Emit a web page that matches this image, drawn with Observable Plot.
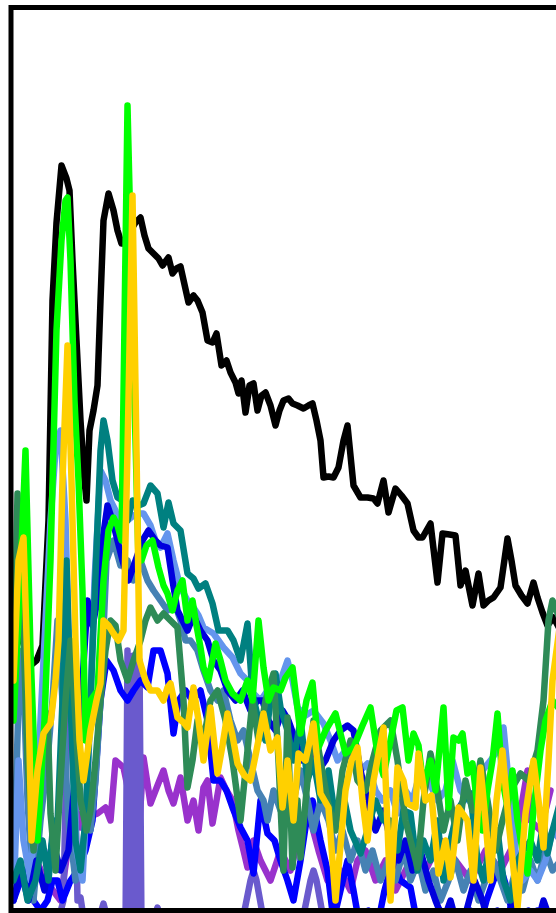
<!DOCTYPE html>
<html><head><meta charset="utf-8">
<script src="https://cdn.jsdelivr.net/npm/d3@7"></script>
<script src="https://cdn.jsdelivr.net/npm/@observablehq/plot@0.6"></script>
<style>html,body{margin:0;padding:0;background:#fff;overflow:hidden}
#chart svg{max-width:none !important;width:575px !important;height:913px !important}</style>
</head><body><div id="chart"></div>
<script>
// Each series: [channel, intensity] pairs
const blackSeries = [[13,402],[22,360],[30,335],[36,340],[42,355],[48,480],[52,700],[56,778],[61,835],[66,822],[69,810],[72,740],[76,660],[80,580],[84,520],[86,500],[89,570],[93,590],[97,615],[100,700],[103,780],[108,807],[113,790],[117,770],[121,757],[125,757],[130,770],[135,778],[140,783],[144,765],[148,752],[153,747],[158,742],[162,735],[168,743],[172,727],[176,732],[180,734],[184,716],[188,698],[193,705],[197,700],[202,688],[207,660],[212,658],[216,667],[221,635],[226,640],[230,628],[235,618],[238,607],[241,620],[245,588],[249,615],[253,617],[257,590],[261,605],[265,608],[270,595],[275,575],[279,590],[283,600],[288,602],[292,597],[297,595],[303,592],[308,595],[312,597],[316,580],[320,560],[323,523],[328,524],[333,523],[338,533],[343,560],[347,575],[350,545],[353,515],[360,503],[367,503],[373,502],[377,497],[383,520],[388,488],[395,512],[401,505],[407,497],[413,470],[418,463],[422,463],[426,470],[430,477],[437,418],[442,467],[449,466],[455,465],[460,415],[465,430],[469,410],[472,395],[478,427],[483,395],[488,400],[493,403],[500,413],[507,462],[511,440],[515,415],[521,405],[527,397],[533,418],[537,403],[542,388],[547,375],[553,383],[560,370]];

const limeSeries = [[13,280],[18,380],[25,550],[30,350],[37,160],[44,280],[50,440],[56,670],[61,760],[65,800],[67,803],[70,740],[74,600],[78,520],[82,410],[85,260],[90,300],[97,310],[103,420],[108,470],[113,483],[117,475],[121,460],[127,895],[134,600],[138,440],[141,440],[146,455],[152,460],[158,433],[163,415],[167,407],[172,390],[177,410],[182,420],[187,380],[192,400],[196,375],[200,353],[203,333],[208,320],[215,357],[220,340],[225,320],[232,307],[240,300],[247,320],[252,300],[258,380],[263,333],[268,300],[273,313],[280,310],[285,323],[292,333],[300,267],[306,300],[312,318],[318,253],[325,270],[335,287],[345,247],[353,253],[362,275],[370,293],[377,247],[383,225],[390,260],[396,290],[402,293],[408,240],[413,267],[418,255],[423,213],[430,240],[435,210],[443,293],[448,193],[453,263],[458,260],[462,267],[467,227],[472,237],[477,193],[482,170],[487,210],[492,240],[497,287],[502,220],[507,193],[512,230],[517,180],[522,150],[527,127],[533,190],[540,250],[545,280],[552,300],[560,290]];

const goldSeries = [[13,320],[18,440],[23,463],[28,300],[31,160],[37,230],[43,267],[50,277],[55,320],[58,360],[62,520],[67,655],[71,520],[75,360],[79,260],[83,220],[90,270],[96,300],[100,317],[103,380],[108,375],[113,367],[118,360],[123,370],[127,550],[132,805],[136,550],[139,340],[145,320],[150,310],[157,310],[163,300],[167,313],[170,317],[177,283],[183,278],[187,273],[193,313],[198,280],[203,240],[210,293],[217,227],[222,255],[227,287],[232,265],[237,237],[244,225],[250,220],[256,250],[263,287],[270,250],[277,263],[282,193],[287,240],[293,180],[298,247],[305,240],[313,277],[320,207],[328,193],[335,100],[345,210],[351,240],[357,253],[362,200],[367,160],[373,220],[383,273],[390,100],[397,233],[403,220],[407,197],[415,193],[418,247],[425,200],[431,205],[438,127],[445,160],[450,123],[458,193],[467,180],[473,120],[480,233],[485,180],[490,120],[496,200],[502,250],[508,180],[517,93],[525,187],[533,240],[538,200],[543,153],[548,240],[552,320],[560,380]];

const tealSeries = [[13,120],[20,140],[27,100],[35,120],[42,160],[48,120],[53,180],[57,177],[62,300],[66,440],[70,300],[75,160],[80,130],[85,180],[90,300],[96,450],[100,550],[103,580],[107,560],[112,520],[117,503],[122,500],[127,480],[132,500],[138,495],[143,497],[150,515],[157,507],[163,473],[168,498],[173,477],[180,470],[187,427],[193,422],[198,412],[205,417],[212,397],[218,370],[227,370],[233,360],[240,340],[247,377],[252,307],[258,280],[265,260],[270,300],[275,327],[280,293],[287,270],[293,240],[300,280],[307,220],[313,240],[320,200],[328,230],[335,180],[342,210],[350,170],[360,147],[367,170],[375,200],[383,180],[390,180],[397,150],[403,190],[410,187],[417,130],[423,160],[430,140],[437,180],[443,120],[450,160],[457,190],[463,200],[470,207],[477,140],[483,120],[490,160],[497,170],[503,120],[510,100],[517,140],[523,150],[530,160],[537,140],[543,180],[547,147],[552,170],[560,200]];

const cornflowerSeries = [[13,100],[18,240],[23,160],[30,120],[38,240],[45,380],[50,480],[55,550],[60,570],[65,480],[70,300],[76,150],[82,120],[88,240],[94,420],[100,530],[105,520],[110,500],[115,490],[120,470],[127,480],[133,485],[138,487],[143,487],[150,475],[155,460],[160,453],[167,467],[173,440],[180,413],[187,400],[193,393],[198,385],[203,373],[213,367],[223,353],[232,343],[240,327],[247,320],[253,307],[260,300],[267,310],[273,307],[280,320],[287,340],[292,320],[297,293],[305,285],[313,290],[323,277],[330,260],[337,240],[345,250],[352,240],[360,230],[367,237],[375,210],[382,200],[390,210],[397,187],[405,210],[412,200],[420,230],[428,220],[437,200],[445,210],[452,240],[460,210],[468,200],[475,210],[482,230],[490,240],[497,250],[503,273],[508,220],[515,150],[522,120],[530,130],[537,120],[545,140],[552,170],[560,160]];

const steelSeries = [[13,120],[18,300],[22,350],[27,200],[33,100],[40,180],[47,240],[52,300],[57,380],[62,300],[68,180],[75,120],[82,150],[87,200],[90,170],[95,220],[100,300],[106,440],[113,460],[120,435],[127,440],[133,420],[140,440],[147,420],[153,410],[160,400],[167,390],[173,400],[180,380],[185,360],[190,360],[197,350],[203,330],[210,310],[217,300],[223,310],[230,280],[237,260],[243,270],[250,240],[257,210],[263,200],[267,180],[273,210],[280,190],[287,220],[293,200],[300,230],[307,200],[313,170],[320,200],[328,180],[335,150],[342,170],[350,140],[357,160],[365,130],[372,150],[380,120],[388,140],[395,120],[403,150],[410,120],[418,140],[425,110],[433,130],[440,100],[448,120],[455,140],[463,110],[470,130],[478,100],[485,120],[493,140],[500,120],[507,100],[515,130],[522,110],[530,140],[537,120],[545,150],[552,130],[560,140]];

const mediumBlueSeries = [[13,100],[20,130],[28,100],[36,140],[44,110],[52,160],[60,130],[68,150],[76,240],[82,320],[87,400],[92,375],[97,400],[102,460],[107,495],[112,480],[117,460],[122,440],[128,420],[135,440],[142,460],[148,470],[155,460],[160,455],[167,453],[172,420],[177,390],[182,380],[187,370],[193,385],[200,370],[207,360],[213,340],[220,330],[227,310],[235,300],[242,310],[250,290],[257,300],[262,300],[268,280],[275,270],[282,290],[288,280],[295,260],[302,240],[310,250],[318,230],[325,240],[333,260],[340,270],[347,275],[353,270],[360,230],[367,200],[375,170],[383,190],[390,160],[398,140],[405,160],[412,130],[420,150],[428,120],[435,100],[443,80],[450,100],[458,70],[466,90],[474,120],[482,100],[490,70],[497,90],[505,80],[513,100],[520,70],[528,90],[535,70],[543,100],[550,80],[560,90]];

const blueSeries = [[13,100],[20,120],[27,130],[33,100],[40,90],[47,100],[52,120],[57,120],[62,100],[70,120],[77,130],[85,150],[92,180],[100,300],[106,340],[113,330],[120,310],[127,300],[133,310],[140,320],[147,313],[153,350],[160,350],[167,327],[173,267],[178,300],[185,310],[192,300],[200,310],[207,280],[213,220],[220,220],[226,210],[232,193],[240,173],[247,160],[253,127],[260,200],[267,167],[274,160],[280,140],[287,120],[293,100],[300,140],[306,180],[312,200],[320,160],[327,130],[333,80],[340,110],[347,140],[353,110],[360,70],[368,90],[376,70],[384,110],[392,140],[400,120],[410,113],[418,70],[425,80],[432,70],[440,90],[448,70],[456,80],[463,70],[470,90],[478,70],[486,100],[493,120],[500,133],[507,110],[515,70],[522,80],[530,70],[537,90],[545,70],[552,80],[560,70]];

const seaGreenSeries = [[13,300],[17,507],[22,400],[27,240],[33,150],[40,240],[47,287],[50,187],[55,130],[60,220],[65,300],[70,360],[75,280],[80,200],[86,170],[90,190],[95,240],[100,300],[105,350],[110,380],[115,375],[120,340],[127,320],[133,340],[140,360],[145,380],[150,393],[157,380],[163,387],[170,380],[177,373],[183,300],[187,213],[192,240],[197,280],[203,260],[210,300],[217,310],[225,280],[232,240],[240,180],[246,240],[252,300],[258,260],[265,300],[273,327],[278,240],[283,130],[287,283],[292,133],[297,200],[300,143],[307,220],[313,280],[320,240],[327,200],[335,170],[342,230],[350,260],[357,220],[365,210],[372,240],[380,270],[390,280],[397,240],[405,180],[410,160],[417,133],[423,200],[430,247],[437,210],[443,170],[450,200],[457,160],[465,220],[472,190],[480,240],[487,200],[495,150],[502,180],[510,210],[520,227],[528,220],[537,250],[543,300],[548,380],[552,400],[560,380]];

const orchidSeries = [[13,130],[25,120],[33,147],[45,120],[60,100],[70,170],[77,187],[80,173],[87,200],[92,185],[97,187],[105,193],[110,180],[115,240],[123,233],[130,200],[136,130],[143,243],[150,197],[157,215],[163,230],[168,210],[173,197],[180,223],[187,180],[193,200],[198,170],[203,213],[207,220],[212,177],[220,223],[226,210],[232,200],[238,170],[243,150],[247,133],[253,160],[260,140],[270,120],[280,150],[290,130],[300,170],[310,180],[318,150],[327,120],[340,130],[350,110],[357,140],[365,150],[375,120],[385,140],[395,110],[405,130],[415,150],[425,130],[440,160],[455,140],[470,120],[485,150],[500,130],[515,160],[527,230],[530,180],[540,170],[550,210]];

const slateSeries = [[13,50],[25,60],[40,70],[55,70],[63,100],[67,300],[70,320],[73,300],[77,100],[80,103],[85,70],[95,70],[103,97],[110,70],[120,70],[125,70],[127,350],[130,80],[133,345],[136,80],[139,340],[141,70],[150,70],[157,93],[165,70],[200,70],[240,70],[250,120],[253,130],[256,120],[265,70],[300,70],[310,120],[313,130],[316,120],[325,70],[400,70],[480,70],[560,70]];

// drawing order (back to front) and colours
const seriesNames = ["black","darkorchid","slateblue","blue","steelblue","cornflowerblue","mediumblue","teal","seagreen","lime","gold"];
const seriesColors = ["#000000","#9932CC","#6A5ACD","#0000FF","#4682B4","#6495ED","#0000DD","#008080","#2E8B57","#00FF00","#FFD000"];
const seriesData = [blackSeries, orchidSeries, slateSeries, blueSeries, steelSeries, cornflowerSeries, mediumBlueSeries, tealSeries, seaGreenSeries, limeSeries, goldSeries];

const marks = seriesData.map((d, i) => Plot.line(d.map(([x, y]) => ({x, y, s: seriesNames[i]})), {
  x: "x", y: "y", stroke: seriesColors[i], strokeWidth: 6.5,
  strokeLinejoin: "round", strokeLinecap: "round", clip: "frame"
}));

const chart = Plot.plot({
  width: 575, height: 913,
  marginLeft: 10.5, marginRight: 10, marginTop: 7, marginBottom: 3,
  x: {domain: [10.5, 565], axis: null},
  y: {domain: [90, 993], axis: null},
  marks: [...marks, Plot.frame({stroke: "black", strokeWidth: 5})]
});
document.getElementById("chart").appendChild(chart);
</script>
</body></html>
